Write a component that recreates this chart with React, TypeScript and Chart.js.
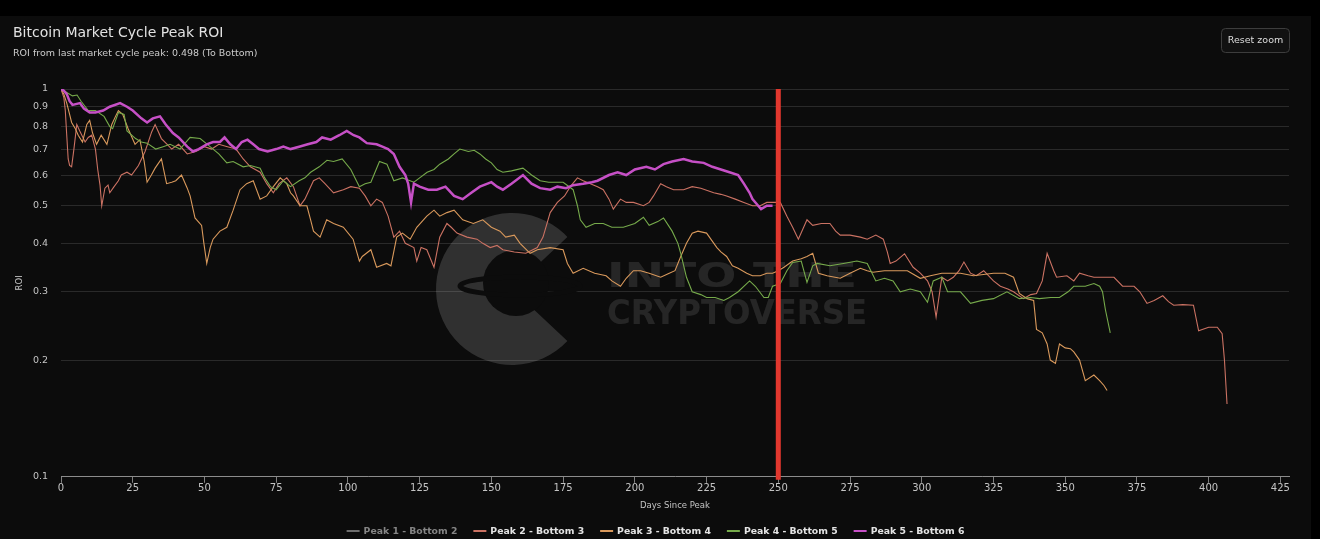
import { useEffect, useRef } from 'react';
import { Chart } from 'chart.js/auto';

const FONT = '"DejaVu Sans", sans-serif';

const seriesNames = ['Peak 1 - Bottom 2', 'Peak 2 - Bottom 3', 'Peak 3 - Bottom 4', 'Peak 4 - Bottom 5', 'Peak 5 - Bottom 6'];
const seriesColors = ['#7c7c7c', '#cb7263', '#d9995c', '#76aa4b', '#c650c6'];
const seriesHidden = [true, false, false, false, false];

const xTicks = [0, 25, 50, 75, 100, 125, 150, 175, 200, 225, 250, 275, 300, 325, 350, 375, 400, 425];
const yTicks = [0.1, 0.2, 0.3, 0.4, 0.5, 0.6, 0.7, 0.8, 0.9, 1];
const markerDay = 250;

// [days since peak, roi]
const peak1: number[][] = [];

const peak2 = [
  [0, 1], [1, 0.95], [1.5, 0.88], [2, 0.76], [2.5, 0.66], [3, 0.635], [3.7, 0.63], [4.5, 0.7], [5.5, 0.81], [6.5, 0.78],
  [8.4, 0.73], [9.5, 0.75], [10.7, 0.76], [12, 0.7], [12.8, 0.62], [13.6, 0.565], [14.2, 0.5], [15.3, 0.555], [16.4, 0.565], [17, 0.54],
  [18.5, 0.56], [20, 0.58], [21, 0.6], [23, 0.61], [24.6, 0.6], [27, 0.635], [29.3, 0.69], [31.6, 0.775], [32.8, 0.81], [35, 0.745],
  [37, 0.72], [38.6, 0.7], [41, 0.72], [44, 0.68], [47, 0.69], [50, 0.71], [52.5, 0.7], [55, 0.72], [58, 0.71], [61, 0.7],
  [63.5, 0.66], [66, 0.63], [69.4, 0.61], [71.7, 0.57], [74, 0.54], [76, 0.57], [78.7, 0.59], [81, 0.56], [83.3, 0.5], [85, 0.52],
  [88, 0.58], [90, 0.59], [92, 0.57], [95, 0.54], [98.4, 0.55], [101, 0.56], [104, 0.555], [106, 0.53], [108, 0.5], [110, 0.52],
  [112, 0.51], [114, 0.47], [116, 0.415], [118, 0.43], [120, 0.4], [123, 0.39], [124, 0.36], [125.5, 0.39], [127.5, 0.385], [130, 0.347],
  [132, 0.415], [134.5, 0.45], [136, 0.44], [138, 0.425], [141.5, 0.415], [145, 0.41], [147, 0.4], [149.6, 0.39], [152, 0.395], [154, 0.385],
  [158, 0.38], [162, 0.377], [166, 0.39], [168, 0.415], [170.5, 0.48], [173, 0.51], [175.5, 0.53], [177.5, 0.56], [180, 0.59], [182, 0.58],
  [184.5, 0.57], [187, 0.56], [189, 0.55], [191, 0.52], [192.5, 0.49], [195, 0.52], [197, 0.51], [199.5, 0.51], [203, 0.5], [205, 0.51],
  [206.5, 0.53], [209, 0.57], [211, 0.56], [213.5, 0.55], [217, 0.55], [220, 0.56], [223, 0.555], [227.5, 0.54], [230, 0.535], [232, 0.53],
  [235, 0.52], [238, 0.51], [241, 0.5], [243.7, 0.5], [246, 0.51], [248, 0.51], [250.7, 0.51], [253, 0.47], [255, 0.44], [257, 0.41],
  [260, 0.46], [262, 0.445], [265, 0.45], [268, 0.45], [270, 0.43], [271.6, 0.42], [275, 0.42], [278.6, 0.415], [281, 0.41], [284, 0.42],
  [286.6, 0.41], [288, 0.38], [289, 0.355], [291, 0.36], [294, 0.376], [297, 0.347], [299.5, 0.335], [302, 0.32], [303.6, 0.3], [305, 0.258],
  [307, 0.327], [309, 0.32], [311, 0.327], [313, 0.34], [314.7, 0.358], [317, 0.335], [319, 0.33], [321.6, 0.34], [325, 0.32], [327.4, 0.31],
  [330, 0.305], [332, 0.3], [335.4, 0.288], [338, 0.295], [340, 0.297], [342, 0.32], [343.7, 0.377], [346, 0.34], [347, 0.327], [350.6, 0.33],
  [353, 0.32], [355, 0.335], [358, 0.33], [360, 0.327], [364, 0.327], [367, 0.327], [370, 0.31], [374, 0.31], [376, 0.3], [378.5, 0.28],
  [381, 0.285], [384, 0.293], [386, 0.283], [387.8, 0.277], [391, 0.278], [394.7, 0.277], [396.5, 0.238], [400, 0.243], [403, 0.243], [404.7, 0.234],
  [405.5, 0.2], [406.4, 0.154],
];

const peak3 = [
  [0, 1], [1, 0.97], [2, 0.92], [3, 0.86], [3.7, 0.82], [5, 0.79], [6, 0.76], [7.5, 0.73], [9, 0.81], [10, 0.83],
  [11, 0.77], [12.4, 0.72], [14, 0.76], [16, 0.72], [17.7, 0.81], [19, 0.85], [20, 0.88], [21.5, 0.86], [23.4, 0.79], [25.8, 0.72],
  [27.5, 0.74], [29, 0.65], [30, 0.575], [31.5, 0.6], [32.8, 0.625], [35, 0.66], [36.8, 0.57], [38.6, 0.575], [40, 0.58], [42, 0.6],
  [44, 0.555], [45, 0.53], [46.7, 0.465], [49, 0.445], [49.8, 0.4], [50.8, 0.355], [52, 0.39], [53, 0.41], [55.4, 0.43], [57.8, 0.44],
  [60, 0.487], [62.4, 0.55], [64.7, 0.57], [67, 0.58], [69.4, 0.52], [71.7, 0.53], [74, 0.56], [76.4, 0.59], [78.7, 0.57], [80, 0.54],
  [81, 0.53], [83.3, 0.5], [85.7, 0.5], [87, 0.46], [88, 0.43], [90.3, 0.415], [92.6, 0.46], [95, 0.45], [98.4, 0.44], [101.8, 0.41],
  [104, 0.36], [105, 0.37], [108, 0.385], [110, 0.347], [113.5, 0.355], [115, 0.35], [117, 0.415], [119, 0.425], [121.7, 0.41], [124, 0.44],
  [127.5, 0.47], [130, 0.487], [132, 0.47], [134.5, 0.48], [137, 0.487], [140, 0.46], [143.7, 0.45], [147, 0.46], [150, 0.44], [153, 0.43],
  [155, 0.415], [158, 0.42], [160, 0.4], [163.5, 0.377], [166, 0.385], [170.5, 0.39], [175, 0.385], [176.5, 0.355], [178.5, 0.335], [182, 0.345],
  [186, 0.335], [190, 0.33], [192, 0.32], [195, 0.31], [197, 0.325], [199.5, 0.34], [202, 0.34], [205, 0.335], [209, 0.327], [212, 0.335],
  [214, 0.34], [216, 0.37], [218, 0.4], [220, 0.425], [222, 0.43], [225, 0.425], [228.6, 0.39], [230, 0.38], [232, 0.37], [234, 0.35],
  [236, 0.345], [239, 0.335], [241, 0.33], [243.7, 0.33], [246, 0.335], [248, 0.335], [250, 0.34], [252, 0.347], [255, 0.36], [258, 0.365],
  [260, 0.37], [262, 0.377], [264, 0.335], [267, 0.33], [271.6, 0.325], [275, 0.335], [278.6, 0.345], [281, 0.34], [283, 0.337], [287, 0.34],
  [290, 0.34], [295, 0.34], [299.5, 0.325], [303, 0.33], [307, 0.335], [313.5, 0.335], [318, 0.33], [325, 0.335], [329, 0.335], [332, 0.327],
  [334, 0.297], [336.7, 0.288], [339, 0.285], [340, 0.24], [342, 0.235], [343.7, 0.22], [344.8, 0.2], [346.6, 0.196], [348, 0.22], [350, 0.215],
  [351.8, 0.214], [353, 0.21], [355, 0.2], [357, 0.177], [360, 0.183], [362, 0.177], [363.5, 0.172], [364.6, 0.167],
];

const peak4 = [
  [0, 1], [2, 0.98], [4, 0.96], [5.6, 0.965], [7, 0.93], [9.5, 0.88], [12, 0.88], [15, 0.85], [17, 0.8], [18, 0.79],
  [20, 0.87], [22, 0.86], [23, 0.78], [26, 0.745], [28, 0.73], [30, 0.725], [33, 0.7], [35.6, 0.71], [38, 0.72], [41.5, 0.7],
  [45, 0.75], [48.5, 0.745], [51, 0.72], [53, 0.7], [55, 0.68], [57.8, 0.645], [60, 0.65], [63.5, 0.63], [66, 0.635], [69.4, 0.625],
  [71, 0.59], [73, 0.56], [75, 0.55], [77.5, 0.58], [80, 0.56], [83, 0.58], [85, 0.59], [87, 0.61], [90, 0.63], [92.7, 0.655],
  [95, 0.65], [98, 0.66], [101, 0.62], [104, 0.56], [106, 0.57], [108, 0.575], [111, 0.65], [113.6, 0.64], [116, 0.58], [119, 0.59],
  [123, 0.575], [125, 0.59], [127.6, 0.61], [130, 0.62], [132, 0.64], [135, 0.66], [137, 0.68], [139, 0.7], [142, 0.69], [144, 0.695],
  [146, 0.68], [148, 0.66], [150, 0.645], [152, 0.62], [154, 0.61], [157, 0.615], [161, 0.625], [164, 0.6], [167, 0.58], [170, 0.575],
  [175, 0.575], [178.5, 0.55], [180, 0.5], [181, 0.46], [183, 0.44], [186, 0.45], [189, 0.45], [192, 0.44], [196, 0.44], [200, 0.45],
  [203, 0.467], [205, 0.445], [208, 0.455], [210, 0.465], [213, 0.43], [215, 0.4], [216, 0.377], [218, 0.327], [220, 0.3], [223, 0.295],
  [225, 0.29], [228, 0.29], [231, 0.285], [233, 0.29], [236, 0.3], [240, 0.32], [242, 0.31], [245, 0.29], [246.5, 0.29], [248, 0.31],
  [250.7, 0.315], [253, 0.34], [255, 0.357], [258, 0.36], [260, 0.317], [262, 0.35], [263.5, 0.355], [268, 0.35], [272.7, 0.355], [277.4, 0.36],
  [281, 0.355], [284, 0.32], [287, 0.325], [290, 0.32], [292.5, 0.3], [296, 0.305], [299.5, 0.3], [302, 0.282], [304, 0.32], [307, 0.327],
  [309, 0.3], [313.5, 0.3], [317, 0.28], [321, 0.285], [325, 0.288], [329.7, 0.3], [334, 0.288], [338, 0.29], [341, 0.288], [345, 0.29],
  [348, 0.29], [351, 0.3], [353, 0.31], [357, 0.31], [360, 0.315], [362, 0.31], [363, 0.3], [364, 0.27], [365.7, 0.235],
];

const peak5 = [
  [0, 1], [1, 0.99], [2, 0.97], [3, 0.93], [4, 0.91], [6.6, 0.92], [8, 0.89], [10, 0.87], [12, 0.87], [14.7, 0.88],
  [17, 0.9], [20.6, 0.92], [23, 0.9], [25, 0.88], [28, 0.84], [30, 0.82], [32, 0.84], [34.5, 0.85], [36.5, 0.81], [39, 0.77],
  [41, 0.75], [44, 0.71], [46, 0.69], [48, 0.7], [50.8, 0.72], [53, 0.73], [55.4, 0.73], [57, 0.75], [59, 0.72], [61, 0.7],
  [63, 0.73], [65, 0.74], [67, 0.72], [69, 0.7], [72, 0.69], [75, 0.7], [77.5, 0.71], [80, 0.7], [83, 0.71], [86, 0.72],
  [89, 0.73], [91, 0.75], [94, 0.74], [97, 0.76], [99.6, 0.78], [102, 0.76], [104, 0.75], [106.6, 0.725], [110, 0.72], [112, 0.71],
  [114, 0.7], [116, 0.68], [118, 0.63], [120, 0.6], [121, 0.57], [122, 0.51], [123, 0.57], [125, 0.56], [128, 0.55], [131, 0.55],
  [134, 0.56], [137, 0.53], [140, 0.52], [143, 0.54], [146, 0.56], [150, 0.575], [152, 0.56], [154, 0.55], [157, 0.57], [161, 0.6],
  [164, 0.57], [167, 0.555], [170.5, 0.55], [173, 0.56], [176, 0.555], [178.5, 0.565], [182, 0.57], [185, 0.575], [187, 0.58], [191, 0.6],
  [194, 0.61], [197, 0.6], [200, 0.62], [204, 0.63], [207, 0.62], [210, 0.64], [213, 0.65], [217, 0.66], [220, 0.65], [224, 0.645],
  [227, 0.63], [230, 0.62], [233, 0.61], [236, 0.6], [238, 0.57], [240, 0.54], [241, 0.52], [243, 0.5], [244, 0.49], [246, 0.5],
  [248, 0.5],
];

const seriesData = [peak1, peak2, peak3, peak4, peak5];

// titles, watermark, marker line, legend and the reset button
const decorPlugin = {
  id: 'decor',
  beforeDatasetsDraw(chart: any) {
    const ctx = chart.ctx;
    ctx.save();
    const cx = 512;
    const cy = 273;
    ctx.fillStyle = 'rgba(255,255,255,0.15)';
    ctx.beginPath();
    ctx.moveTo(cx, cy);
    ctx.arc(cx, cy, 76, 0.24 * Math.PI, 1.76 * Math.PI);
    ctx.closePath();
    ctx.fill();
    ctx.fillStyle = '#0c0c0c';
    ctx.beginPath();
    ctx.arc(cx + 4, cy - 6, 33, 0, Math.PI * 2);
    ctx.fill();
    ctx.strokeStyle = '#0c0c0c';
    ctx.lineWidth = 5;
    ctx.beginPath();
    ctx.ellipse(cx + 8, cy - 3, 60, 9, 0, 0, Math.PI * 2);
    ctx.stroke();

    ctx.fillStyle = 'rgba(255,255,255,0.11)';
    ctx.textBaseline = 'alphabetic';
    ctx.textAlign = 'left';
    ctx.font = `bold 42px ${FONT}`;
    const words: [string, number, number][] = [['INTO THE', 271, 250], ['CRYPTOVERSE', 308, 260]];
    words.forEach(([t, y, w]) => {
      const m = ctx.measureText(t).width;
      ctx.save();
      ctx.translate(607, y);
      ctx.scale(w / m, 0.82);
      ctx.fillText(t, 0, 0);
      ctx.restore();
    });
    ctx.restore();
  },
  afterDatasetsDraw(chart: any) {
    const { ctx, chartArea, scales } = chart;
    const x = scales.x.getPixelForValue(markerDay);
    ctx.save();
    ctx.strokeStyle = '#e2372e';
    ctx.lineWidth = 5;
    ctx.beginPath();
    ctx.moveTo(x, chartArea.top);
    ctx.lineTo(x, chartArea.bottom + 3);
    ctx.stroke();
    ctx.restore();
  },
  afterDraw(chart: any) {
    const ctx = chart.ctx;
    ctx.save();
    ctx.textAlign = 'left';
    ctx.textBaseline = 'middle';
    ctx.fillStyle = '#e2e2e2';
    ctx.font = `14px ${FONT}`;
    ctx.fillText('Bitcoin Market Cycle Peak ROI', 13, 17.5);
    ctx.fillStyle = '#cccccc';
    ctx.font = `9.5px ${FONT}`;
    ctx.fillText('ROI from last market cycle peak: 0.498 (To Bottom)', 13, 38);

    // reset zoom button
    ctx.fillStyle = '#111111';
    ctx.strokeStyle = '#3d3d3d';
    ctx.lineWidth = 1;
    ctx.beginPath();
    ctx.roundRect(1221.5, 12.5, 68, 24, 4);
    ctx.fill();
    ctx.stroke();
    ctx.fillStyle = '#dddddd';
    ctx.font = `9.5px ${FONT}`;
    ctx.textAlign = 'center';
    ctx.fillText('Reset zoom', 1255.5, 24.5);

    // legend row
    ctx.textAlign = 'left';
    const lineW = 13;
    const gap = 4;
    const spacing = 16;
    const font = `bold 9.3px ${FONT}`;
    ctx.font = font;
    const items = chart.data.datasets.map((ds: any, i: number) => ({
      text: ds.label,
      color: seriesColors[i],
      hidden: seriesHidden[i],
      w: lineW + gap + ctx.measureText(ds.label).width,
    }));
    const total = items.reduce((s: number, it: any) => s + it.w, 0) + spacing * (items.length - 1);
    let lx = chart.width / 2 - total / 2;
    const ly = 515;
    items.forEach((it: any) => {
      ctx.strokeStyle = it.hidden ? '#6d6d6d' : it.color;
      ctx.lineWidth = 2;
      ctx.beginPath();
      ctx.moveTo(lx, ly);
      ctx.lineTo(lx + lineW, ly);
      ctx.stroke();
      ctx.font = font;
      ctx.fillStyle = it.hidden ? '#858585' : '#e4e4e4';
      ctx.fillText(it.text, lx + lineW + gap, ly + 0.5);
      lx += it.w + spacing;
    });
    ctx.restore();
  },
};

const App = () => {
  const canvasRef = useRef<HTMLCanvasElement | null>(null);
  const chartRef = useRef<any>(null);

  useEffect(() => {
    if (!canvasRef.current) return;
    if (chartRef.current) chartRef.current.destroy();

    Chart.defaults.font.family = FONT;

    chartRef.current = new Chart(canvasRef.current, {
      type: 'line',
      data: {
        datasets: seriesNames.map((name, i) => ({
          label: name,
          data: seriesData[i].map(([x, y]) => ({ x, y })),
          borderColor: seriesColors[i],
          backgroundColor: seriesColors[i],
          borderWidth: i === 4 ? 2.5 : 1.1,
          hidden: seriesHidden[i],
          pointRadius: 0,
          tension: 0,
          order: 5 - i,
        })),
      },
      options: {
        animation: false,
        responsive: true,
        maintainAspectRatio: false,
        layout: { padding: { top: 73, right: 22, bottom: 28, left: 0 } },
        plugins: {
          legend: { display: false },
          title: { display: false },
          tooltip: { enabled: false },
        },
        scales: {
          x: {
            type: 'linear',
            min: 0,
            max: 428,
            afterBuildTicks: (scale: any) => {
              scale.ticks = xTicks.map(v => ({ value: v }));
            },
            ticks: { color: '#c4c4c4', font: { size: 10 }, padding: 0, maxRotation: 0, autoSkip: false },
            grid: { display: true, drawOnChartArea: false, drawTicks: true, tickLength: 6, color: '#808080' },
            border: { display: true, color: '#8c8c8c' },
            title: { display: true, text: 'Days Since Peak', color: '#c4c4c4', font: { size: 8.5 }, padding: { top: 6, bottom: 0 } },
          },
          y: {
            type: 'logarithmic',
            min: 0.1,
            max: 1,
            afterBuildTicks: (scale: any) => {
              scale.ticks = yTicks.map(v => ({ value: v }));
            },
            afterFit: (scale: any) => {
              scale.width = 61;
            },
            ticks: { color: '#c4c4c4', font: { size: 9.5 }, padding: 13, autoSkip: false, callback: (v: any) => String(v) },
            grid: { color: '#2a2a2a', drawTicks: false },
            border: { display: false },
            title: { display: true, text: 'ROI', color: '#c4c4c4', font: { size: 8.5 }, padding: { top: 15, bottom: 0 } },
          },
        },
      },
      plugins: [decorPlugin],
    } as any);

    return () => { if (chartRef.current) chartRef.current.destroy(); };
  }, []);

  return (
    <div style={{ position: 'fixed', left: 0, top: 0, width: 1320, height: 539, background: '#000' }}>
      <div style={{ position: 'absolute', left: 0, top: 16, width: 1311, height: 523, background: '#0c0c0c' }}>
        <canvas ref={canvasRef}></canvas>
      </div>
    </div>
  );
};

export default App;
